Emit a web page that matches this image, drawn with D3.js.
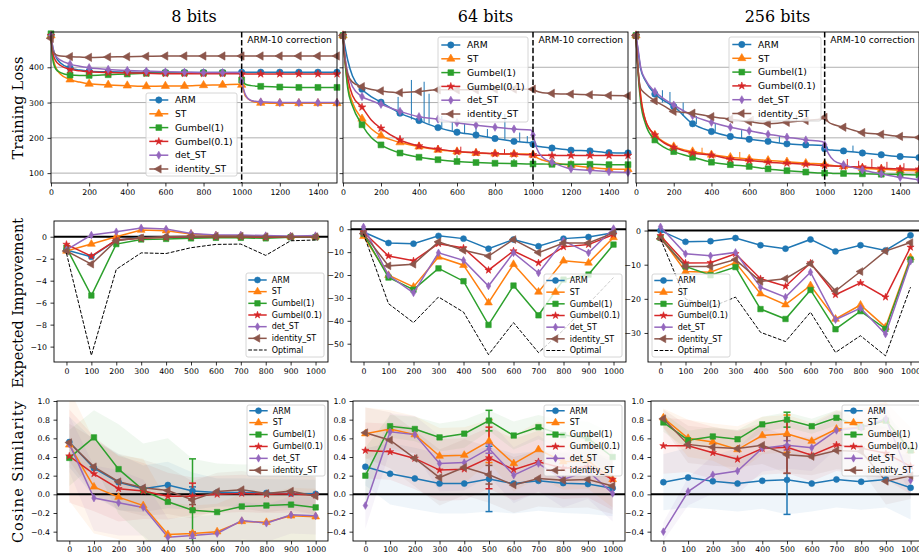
<!DOCTYPE html>
<html><head><meta charset="utf-8">
<script src="https://cdn.jsdelivr.net/npm/d3@7"></script>
<style>body{margin:0;background:#fff}svg{display:block}</style>
</head><body><svg id="chart" width="919" height="552"></svg>
<script>
// ---------------- DATA ----------------
const seriesNames = ["ARM","ST","Gumbel(1)","Gumbel(0.1)","det_ST","identity_ST"];
const seriesColors = ["#1f77b4","#ff7f0e","#2ca02c","#d62728","#9467bd","#8c564b"];
const panelTitles = ["8 bits","64 bits","256 bits"];
const rowLabels = ["Training Loss","Expected Improvement","Cosine Similarity"];
const correctionLabel = "ARM-10 correction";
const correctionStep = 1000;

const lossSteps = [0,10,25,50,100,150,200,300,400,500,600,700,800,900,990,1000,1020,1050,1100,1200,1300,1400,1500];
const lossXTicks = [0,200,400,600,800,1000,1200,1400];
const lossYTicks = [100,200,300,400];

const loss8 = [
 [490,455,430,412,398,392,389,387,386,385,385,385,385,385,385,386,386,386,386,386,386,386,386],
 [490,430,400,380,365,358,353,350,348,346,347,347,349,350,352,350,318,305,299,298,298,298,298],
 [495,420,395,385,378,377,377,379,381,383,384,384,384,384,384,364,352,348,346,344,343,343,343],
 [490,440,418,405,394,390,387,385,384,383,382,382,382,382,382,381,381,381,381,381,381,381,381],
 [490,455,432,420,409,403,399,394,391,389,387,386,385,385,385,360,322,306,302,300,300,300,300],
 [482,445,436,432,430,429,428,429,430,431,432,432,432,432,432,432,432,432,432,432,432,432,432]
];
const loss64 = [
 [490,460,420,375,338,316,301,270,249,229,216,208,198,190,186,182,177,174,171,165,163,158,157],
 [490,420,350,300,254,225,206,187,175,166,161,157,155,154,154,152,144,137,130,122,116,112,111],
 [490,420,340,290,237,200,180,157,145,138,133,130,128,127,126,126,126,126,125,125,125,124,124],
 [490,430,370,320,287,250,227,194,177,168,161,158,155,154,152,152,151,151,150,150,150,150,150],
 [490,430,385,345,317,305,295,275,260,253,243,236,230,225,222,208,170,145,131,112,108,104,102],
 [490,420,380,358,345,337,333,328,331,336,336,336,338,338,338,338,332,328,326,324,322,320,319]
];
const loss256 = [
 [490,450,395,362,324,305,289,240,218,204,196,190,183,180,178,169,166,165,163,157,152,147,144],
 [490,400,320,250,208,188,175,161,152,145,140,136,132,128,126,125,123,121,119,114,111,108,107],
 [490,390,300,240,194,173,161,145,131,124,119,112,107,103,100,100,100,99,99,98,97,96,95],
 [490,400,315,250,208,185,173,157,151,140,136,131,128,125,122,122,121,120,119,117,114,112,111],
 [490,455,400,365,331,310,293,263,244,230,220,210,202,194,189,180,155,135,124,109,98,88,81],
 [490,400,340,325,305,290,275,270,260,253,246,240,244,249,255,258,245,237,230,215,210,204,201]
];
// spikes: [seriesIndex, step, base, peak]
const spikes8 = [];
const spikes64 = [
 [0,290,268,316],[0,360,252,364],[0,427,245,359],[0,453,240,325],[0,520,226,262],[0,575,220,248],
 [0,640,213,240],[0,700,208,232],[0,760,202,225],[0,852,195,268],[0,930,188,215],[0,970,186,205],
 [1,300,187,200],[3,300,194,208],[2,600,133,150],[3,620,160,175],[2,900,127,140],[3,850,155,168]
];
const spikes256 = [
 [0,140,300,335],[0,180,292,330],[0,250,262,300],[0,320,238,262],[0,420,216,240],[0,560,198,222],
 [0,760,186,205],[0,1150,160,178],[3,1120,119,140],[3,1180,118,135],[3,1250,116,140],[3,1330,114,132],
 [3,1420,112,128],[5,620,245,262],[5,850,246,265],[4,400,245,262],[1,550,143,160],[1,350,155,172]
];

const evalSteps = [0,100,200,300,400,500,600,700,800,900,1000];
const ei8 = [
 [-1.2,-1.83,-0.3,-0.1,-0.05,0,-0.02,-0.02,-0.05,-0.02,0],
 [-1.3,-0.67,0.0,0.6,0.55,0.25,0.1,0.05,0.0,0.0,0.0],
 [-1.0,-5.35,-0.67,-0.25,-0.2,-0.15,-0.1,-0.1,-0.15,-0.05,-0.05],
 [-0.7,-1.77,-0.3,-0.15,-0.05,0,0,0,-0.05,0,0],
 [-1.2,0.15,0.45,0.8,0.7,0.3,0.15,0.15,0.1,0.05,0.1],
 [-1.3,-2.5,-0.37,-0.1,0,0.05,0.05,0.05,0,0,0]
];
const opt8 = [-1.5,-10.8,-2.97,-1.47,-1.53,-1.0,-0.7,-0.67,-1.7,-0.37,-0.3];
const ei64 = [
 [-1.2,-6.0,-6.3,-2.9,-4.1,-8.5,-4.5,-7.4,-4.1,-3.4,-1.5],
 [-3.1,-20.1,-25.2,-12.1,-15.7,-32.1,-15.3,-27.4,-13.8,-14.7,-3.6],
 [-1.9,-21.1,-26.4,-17.1,-22.7,-41.8,-24.6,-37.6,-22.0,-19.8,-6.7],
 [-1.2,-11.7,-13.8,-6.3,-8.2,-17.9,-9.5,-14.7,-7.7,-6.7,-2.3],
 [1.0,-20.1,-27.8,-10.3,-13.6,-24.8,-10.3,-19.1,-5.1,-10.3,0.3],
 [-1.9,-16.0,-15.3,-5.5,-9.2,-11.7,-4.5,-10.2,-6.0,-6.0,-1.6]
];
const opt64 = [-2.0,-32.5,-40.8,-29.6,-36.2,-54.8,-40.8,-53.9,-44.0,-32.5,-21.1];
const ei256 = [
 [0,-3.3,-3.1,-2.2,-4.3,-5.3,-2.6,-6.1,-4.3,-5.8,-1.4],
 [-1.9,-12.0,-12.2,-9.4,-18.5,-21.7,-16.1,-25.9,-21.8,-28.3,-7.9],
 [-2.1,-10.5,-13.1,-10.7,-23.0,-25.9,-17.4,-28.9,-23.6,-28.8,-8.5],
 [-1.5,-9.5,-9.4,-6.8,-14.1,-16.3,-9.5,-18.8,-15.3,-19.5,-4.9],
 [1.1,-6.8,-7.4,-6.4,-16.6,-19.5,-12.2,-26.1,-22.7,-30.3,-9.0],
 [-2.4,-10.5,-10.5,-8.5,-14.9,-14.1,-9.7,-17.7,-12.0,-6.0,-3.5]
];
const opt256 = [-2.4,-20,-22.5,-19.5,-29.8,-32.5,-23.9,-35.7,-30.8,-36.7,-16.6];
const eiTicks8 = [-10,-8,-6,-4,-2,0];
const eiTicks64 = [-50,-40,-30,-20,-10,0];
const eiTicks256 = [-30,-20,-10,0];
const eiDomains = [[-11.4,1.43],[-58,3.6],[-38.5,2.8]];

const cos8 = [
 [0.56,0.28,0.13,0.06,0.10,0.035,0.02,0.02,0.015,0.01,0.005],
 [0.53,0.08,-0.03,-0.12,-0.43,-0.42,-0.40,-0.29,-0.30,-0.23,-0.24],
 [0.39,0.61,0.27,0.045,-0.08,-0.17,-0.19,-0.13,-0.12,-0.11,-0.14],
 [0.41,0.22,0.06,0.035,-0.02,-0.02,0.0,0.01,0.0,0.005,-0.01],
 [0.54,-0.04,-0.09,-0.14,-0.46,-0.44,-0.42,-0.28,-0.31,-0.22,-0.23],
 [0.555,0.295,0.135,0.07,0.04,-0.06,0.03,0.05,0.01,0.035,-0.02]
];
const std8 = [
 [0.27,0.3,0.3,0.25,0.25,0.2,0.15,0.15,0.15,0.15,0.15],
 [0.6,0.5,0.45,0.5,0.35,0.3,0.3,0.3,0.3,0.3,0.3],
 [0.3,0.29,0.48,0.5,0.68,0.55,0.52,0.45,0.44,0.42,0.36],
 [0.5,0.4,0.35,0.3,0.25,0.2,0.2,0.2,0.2,0.2,0.2],
 [0.3,0.35,0.35,0.3,0.2,0.2,0.2,0.2,0.2,0.2,0.2],
 [0.2,0.3,0.3,0.3,0.25,0.2,0.2,0.2,0.2,0.2,0.2]
];
const err8 = [0.045,0.02,0.55,0.14,0.03,0.05];
const cos64 = [
 [0.295,0.22,0.17,0.115,0.115,0.165,0.115,0.145,0.12,0.11,0.065],
 [0.65,0.70,0.64,0.41,0.42,0.57,0.33,0.48,0.35,0.36,0.16],
 [0.20,0.73,0.70,0.61,0.65,0.79,0.63,0.72,0.635,0.60,0.40],
 [0.47,0.455,0.385,0.26,0.27,0.39,0.265,0.35,0.28,0.295,0.16],
 [-0.12,0.67,0.64,0.33,0.34,0.49,0.205,0.33,0.16,0.25,0.01],
 [0.66,0.58,0.385,0.18,0.29,0.21,0.10,0.17,0.15,0.16,0.09]
];
const std64 = [
 [0.2,0.33,0.33,0.32,0.32,0.35,0.32,0.32,0.32,0.32,0.3],
 [0.28,0.2,0.2,0.3,0.3,0.23,0.3,0.3,0.3,0.3,0.3],
 [0.3,0.12,0.13,0.15,0.15,0.11,0.15,0.13,0.15,0.18,0.25],
 [0.3,0.3,0.33,0.33,0.33,0.33,0.33,0.33,0.33,0.33,0.33],
 [0.25,0.2,0.2,0.3,0.3,0.3,0.3,0.3,0.3,0.3,0.3],
 [0.27,0.3,0.3,0.3,0.3,0.3,0.3,0.3,0.3,0.3,0.3]
];
const err64 = [0.35,0.23,0.11,0.33,0.05,0.1];
const cos256 = [
 [0.13,0.18,0.14,0.115,0.145,0.155,0.115,0.16,0.135,0.16,0.07],
 [0.82,0.60,0.56,0.48,0.63,0.65,0.57,0.70,0.72,0.79,0.47],
 [0.77,0.58,0.62,0.59,0.75,0.80,0.73,0.82,0.72,0.79,0.47],
 [0.52,0.52,0.445,0.375,0.49,0.505,0.42,0.53,0.495,0.44,0.30],
 [-0.40,0.03,0.21,0.25,0.495,0.525,0.50,0.685,0.715,0.81,0.15],
 [0.81,0.535,0.505,0.49,0.525,0.425,0.405,0.47,0.46,0.14,0.20]
];
const std256 = [
 [0.3,0.32,0.3,0.3,0.3,0.37,0.3,0.3,0.3,0.3,0.34],
 [0.1,0.2,0.2,0.25,0.2,0.2,0.2,0.2,0.2,0.2,0.25],
 [0.1,0.1,0.1,0.1,0.08,0.08,0.08,0.08,0.08,0.08,0.1],
 [0.3,0.28,0.28,0.3,0.28,0.28,0.28,0.28,0.28,0.28,0.3],
 [0.1,0.15,0.2,0.25,0.25,0.25,0.25,0.2,0.2,0.15,0.2],
 [0.1,0.2,0.2,0.2,0.2,0.2,0.2,0.2,0.2,0.25,0.25]
];
const err256 = [0.37,0.2,0.08,0.28,0.05,0.2];
const errStep = 500;
const cosTicks = [-0.4,-0.2,0.0,0.2,0.4,0.6,0.8,1.0];
const evalXTicks = [0,100,200,300,400,500,600,700,800,900,1000];

// ---------------- LAYOUT ----------------
const svg = d3.select("#chart");
const colsR1 = [[51,337],[343,628],[636,919]];
const colsR2 = [[54,328],[351,626],[648,923]];
const colsR3 = [[57,328],[353,625],[651,923]];
const rowsY = [[32,183],[221,362],[401,541]];
const FONT = "DejaVu Sans";
const TICKFS = 7.8;

const symTypes = [d3.symbolCircle, d3.symbolTriangle, d3.symbolSquare, d3.symbolStar, d3.symbolDiamond, d3.symbolTriangle];
const symSizes = [28, 26, 30, 16, 17, 26];
const symRot = [0,0,0,0,0,-90];
function marker(g, i, px, py, k) {
  g.append("path")
    .attr("d", d3.symbol(symTypes[i], symSizes[i]*(k||1))())
    .attr("transform", `translate(${px},${py}) rotate(${symRot[i]})`)
    .attr("fill", seriesColors[i]).attr("stroke", seriesColors[i]).attr("stroke-width", 0.6);
}

function axes(g, x, y, box, xt, yt, yfmt, showY, xpad) {
  const ax = g.append("g").attr("transform", `translate(0,${box[3]})`)
    .call(d3.axisBottom(x).tickValues(xt).tickSize(3.5).tickPadding(xpad).tickFormat(d3.format("d")));
  const ay = g.append("g").attr("transform", `translate(${box[0]},0)`)
    .call(d3.axisLeft(y).tickValues(yt).tickSize(3.5).tickPadding(3.5).tickFormat(showY ? yfmt : ""));
  [ax, ay].forEach(a => {
    a.select(".domain").remove();
    a.attr("font-family", FONT).attr("font-size", TICKFS);
    a.selectAll("line").attr("stroke", "#000").attr("stroke-width", 0.8);
    a.selectAll("text").attr("fill", "#000");
  });
}
function spines(g, box) {
  g.append("rect").attr("x", box[0]).attr("y", box[2]).attr("width", box[1]-box[0]).attr("height", box[3]-box[2])
    .attr("fill", "none").attr("stroke", "#000").attr("stroke-width", 0.9);
}
function legend(g, lx, ly, lw, lh, fs, sp, l0, l1, tx, withOpt, mk) {
  const items = seriesNames.map((n,i)=>({n,i}));
  if (withOpt) items.push({n:"Optimal", i:-1});
  g.append("rect").attr("x", lx).attr("y", ly).attr("width", lw).attr("height", lh).attr("rx", 2)
    .attr("fill", "#fff").attr("fill-opacity", 0.8).attr("stroke", "#cccccc").attr("stroke-width", 0.8);
  const y0 = ly + (lh - (items.length-1)*sp)/2;
  items.forEach((it,k) => {
    const yy = y0 + k*sp;
    const ln = g.append("line").attr("x1", lx+l0).attr("x2", lx+l1).attr("y1", yy).attr("y2", yy);
    if (it.i < 0) ln.attr("stroke", "#000").attr("stroke-width", 1).attr("stroke-dasharray", "3.7,1.6");
    else { ln.attr("stroke", seriesColors[it.i]).attr("stroke-width", 1.5); marker(g, it.i, lx+(l0+l1)/2, yy, mk); }
    g.append("text").attr("x", lx+tx).attr("y", yy).attr("dy", "0.35em").attr("font-family", FONT)
      .attr("font-size", fs).attr("fill", "#000").text(it.n);
  });
}

// ---------------- ROW 1: TRAINING LOSS ----------------
const lossData = [loss8, loss64, loss256];
const spikeData = [spikes8, spikes64, spikes256];
const lossLegends = [[146,93,91,83],[438,37,90,85],[729,37,92,84]];
[0,1,2].forEach(c => {
  const box = [colsR1[c][0], colsR1[c][1], rowsY[0][0], rowsY[0][1]];
  const x = d3.scaleLinear().domain([0,1500]).range([box[0], box[1]]);
  const y = d3.scaleLinear().domain([72,500]).range([box[3], box[2]]);
  const g = svg.append("g");
  g.selectAll(".grid").data(lossYTicks).join("line")
    .attr("x1", box[0]).attr("x2", box[1]).attr("y1", d=>y(d)).attr("y2", d=>y(d))
    .attr("stroke", "#b0b0b0").attr("stroke-width", 1);
  const line = d3.line().x(d=>x(d[0])).y(d=>y(d[1])).curve(d3.curveMonotoneX);
  lossData[c].forEach((vals, i) => {
    const pts = lossSteps.map((s,k)=>[s, vals[k]]);
    g.append("path").datum(pts).attr("d", line).attr("fill","none")
      .attr("stroke", seriesColors[i]).attr("stroke-width", 1.5);
    spikeData[c].filter(s=>s[0]===i).forEach(s => {
      g.append("line").attr("x1", x(s[1])).attr("x2", x(s[1])).attr("y1", y(s[2])).attr("y2", y(s[3]))
        .attr("stroke", seriesColors[i]).attr("stroke-width", 1);
    });
    pts.filter(p => p[0] % 100 === 0).forEach(p => marker(g, i, x(p[0]), y(p[1]), 1.15));
  });
  g.append("line").attr("x1", x(correctionStep)).attr("x2", x(correctionStep))
    .attr("y1", box[2]).attr("y2", box[3]).attr("stroke", "#000").attr("stroke-width", 1.5)
    .attr("stroke-dasharray", "5.5,2.4");
  g.append("text").attr("x", x(correctionStep)+5.5).attr("y", 42.5).attr("font-family", FONT)
    .attr("font-size", 9.2).attr("fill", "#000").text(correctionLabel);
  axes(g, x, y, box, lossXTicks, lossYTicks, d3.format("d"), c === 0, 3);
  spines(g, box);
  const L = lossLegends[c];
  legend(g, L[0], L[1], L[2], L[3], 9.2, 13.8, 3.3, 22.3, 29, false, 1.1);
  g.append("text").attr("x", (box[0]+box[1])/2).attr("y", 22).attr("text-anchor", "middle")
    .attr("font-family", "DejaVu Serif").attr("font-size", 16).attr("fill", "#000").text(panelTitles[c]);
});

// ---------------- ROW 2: EXPECTED IMPROVEMENT ----------------
const eiData = [ei8, ei64, ei256];
const optData = [opt8, opt64, opt256];
const eiTicks = [eiTicks8, eiTicks64, eiTicks256];
const eiLegends = [[246,273,78,84],[544,274,78,83],[652,274,78,83]];
[0,1,2].forEach(c => {
  const box = [colsR2[c][0], colsR2[c][1], rowsY[1][0], rowsY[1][1]];
  const x = d3.scaleLinear().domain([-50,1050]).range([box[0], box[1]]);
  const y = d3.scaleLinear().domain(eiDomains[c]).range([box[3], box[2]]);
  const g = svg.append("g");
  g.append("line").attr("x1", box[0]).attr("x2", box[1]).attr("y1", y(0)).attr("y2", y(0))
    .attr("stroke", "#000").attr("stroke-width", 2);
  const line = d3.line().x(d=>x(d[0])).y(d=>y(d[1]));
  eiData[c].forEach((vals, i) => {
    const pts = evalSteps.map((s,k)=>[s, vals[k]]);
    g.append("path").datum(pts).attr("d", line).attr("fill","none")
      .attr("stroke", seriesColors[i]).attr("stroke-width", 1.5);
    pts.forEach(p => marker(g, i, x(p[0]), y(p[1]), 1));
  });
  g.append("path").datum(evalSteps.map((s,k)=>[s, optData[c][k]])).attr("d", line).attr("fill","none")
    .attr("stroke", "#000").attr("stroke-width", 1).attr("stroke-dasharray", "3.7,1.6");
  axes(g, x, y, box, evalXTicks, eiTicks[c], d3.format("d"), true, 3);
  spines(g, box);
  const L = eiLegends[c];
  legend(g, L[0], L[1], L[2], L[3], 8, 11.67, 2.3, 20.7, 25.7, true, 1);
});

// ---------------- ROW 3: COSINE SIMILARITY ----------------
const cosData = [cos8, cos64, cos256];
const stdData = [std8, std64, std256];
const errData = [err8, err64, err256];
const cosLegends = [[247,405,78,71],[544,405,78,71],[842,405,78,71]];
[0,1,2].forEach(c => {
  const box = [colsR3[c][0], colsR3[c][1], rowsY[2][0], rowsY[2][1]];
  const x = d3.scaleLinear().domain([-50,1050]).range([box[0], box[1]]);
  const y = d3.scaleLinear().domain([-0.5,1.0]).range([box[3], box[2]]);
  const g = svg.append("g");
  const cid = "clip3_" + c;
  g.append("clipPath").attr("id", cid).append("rect")
    .attr("x", box[0]).attr("y", box[2]).attr("width", box[1]-box[0]).attr("height", box[3]-box[2]);
  const bands = g.append("g").attr("clip-path", `url(#${cid})`);
  const area = d3.area().x(d=>x(d[0])).y0(d=>y(d[1]-d[2])).y1(d=>y(d[1]+d[2]));
  cosData[c].forEach((vals, i) => {
    const pts = evalSteps.map((s,k)=>[s, vals[k], stdData[c][i][k]]);
    bands.append("path").datum(pts).attr("d", area).attr("fill", seriesColors[i]).attr("fill-opacity", 0.07);
  });
  g.append("line").attr("x1", box[0]).attr("x2", box[1]).attr("y1", y(0)).attr("y2", y(0))
    .attr("stroke", "#000").attr("stroke-width", 2);
  const line = d3.line().x(d=>x(d[0])).y(d=>y(d[1]));
  const fg = g.append("g").attr("clip-path", `url(#${cid})`);
  cosData[c].forEach((vals, i) => {
    const pts = evalSteps.map((s,k)=>[s, vals[k]]);
    fg.append("path").datum(pts).attr("d", line).attr("fill","none")
      .attr("stroke", seriesColors[i]).attr("stroke-width", 1.5);
    const k5 = evalSteps.indexOf(errStep);
    const m = vals[k5], e = errData[c][i];
    fg.append("line").attr("x1", x(errStep)).attr("x2", x(errStep)).attr("y1", y(m-e)).attr("y2", y(m+e))
      .attr("stroke", seriesColors[i]).attr("stroke-width", 1.5);
    [m-e, m+e].forEach(v => fg.append("line").attr("x1", x(errStep)-3.5).attr("x2", x(errStep)+3.5)
      .attr("y1", y(v)).attr("y2", y(v)).attr("stroke", seriesColors[i]).attr("stroke-width", 1.5));
    pts.forEach(p => marker(g, i, x(p[0]), y(p[1]), 1));
  });
  axes(g, x, y, box, evalXTicks, cosTicks, d3.format(".1f"), true, 2.2);
  spines(g, box);
  const L = cosLegends[c];
  legend(g, L[0], L[1], L[2], L[3], 8, 11.9, 2.3, 20.7, 25.7, false, 1);
});

// ---------------- ROW LABELS ----------------
const labelPos = [[17.5,108,103],[17.5,303,170],[17.5,472,142]];
rowLabels.forEach((t, r) => {
  const [lx, ly, len] = labelPos[r];
  svg.append("text").attr("transform", `translate(${lx+5},${ly}) rotate(-90)`)
    .attr("text-anchor", "middle").attr("font-family", "DejaVu Serif").attr("font-size", 14.5)
    .attr("fill", "#000").attr("textLength", len).attr("lengthAdjust", "spacing").text(t);
});
</script></body></html>
